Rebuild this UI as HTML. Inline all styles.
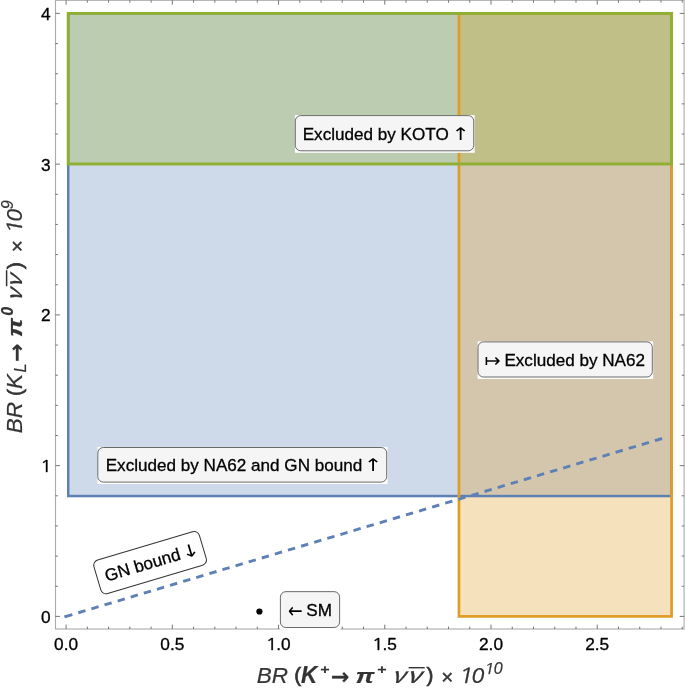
<!DOCTYPE html>
<html lang="en"><head><meta charset="utf-8"><title>BR plot</title>
<style>
html,body{margin:0;padding:0;background:#fff;}
body{width:685px;height:688px;overflow:hidden;}
svg{display:block;}
text{font-family:"Liberation Sans","DejaVu Sans",sans-serif;}
.tk{font-size:17.3px;fill:#000;stroke:#000;stroke-width:0.3px;}
text.n1{font-family:"NanumGothic","Liberation Sans",sans-serif;font-style:normal;}
.lb{font-size:17.1px;fill:#000;stroke:#000;stroke-width:0.3px;}
.ar{font-family:"DejaVu Sans",sans-serif;fill:#000;}
.ax{fill:#343434;font-style:italic;stroke:#343434;stroke-width:0.2px;}
.dj{font-family:"DejaVu Sans",sans-serif;font-weight:bold;font-style:normal;}
.nu{font-family:"Noto Sans CJK SC","Liberation Sans",sans-serif;font-weight:400;}
.up{font-style:normal;}
.pr{font-style:normal;stroke:#343434;stroke-width:0.7px;}
.sb{stroke:#343434;stroke-width:0.4px;}
.b{font-weight:bold;}
.frame{stroke:#666;fill:none;}
</style></head><body>
<svg width="685" height="688" viewBox="0 0 685 688">
<rect x="0" y="0" width="685" height="688" fill="#fff"/>
<rect x="68.22" y="13.40" width="603.36" height="482.65" fill="#5e81b5" fill-opacity="0.3"/>
<rect x="458.95" y="13.40" width="212.63" height="603.00" fill="#e19c24" fill-opacity="0.3"/>
<rect x="68.22" y="13.40" width="603.36" height="150.60" fill="#8fb032" fill-opacity="0.3"/>
<rect x="68.22" y="13.40" width="603.36" height="482.65" fill="none" stroke="#5e81b5" stroke-width="2.5"/>
<rect x="458.95" y="13.40" width="212.63" height="603.00" fill="none" stroke="#e19c24" stroke-width="2.7"/>
<rect x="68.22" y="13.40" width="603.36" height="150.60" fill="none" stroke="#8fb032" stroke-width="2.9"/>
<line x1="65.20" y1="616.67" x2="662.30" y2="438.43" stroke="#5e81b5" stroke-width="2.9" stroke-dasharray="7.47 6.206"/>
<line x1="64.40" y1="616.91" x2="66.00" y2="616.43" stroke="#5e81b5" stroke-width="2.9"/>
<g class="frame">
<rect x="55.50" y="0.30" width="628.60" height="628.70" stroke-width="1.1" stroke-opacity="0.55"/>
<path stroke-width="0.9" d="M66.10 629.00v-4.40M66.10 0.30v4.40M87.34 629.00v-2.40M87.34 0.30v2.40M108.59 629.00v-2.40M108.59 0.30v2.40M129.83 629.00v-2.40M129.83 0.30v2.40M151.08 629.00v-2.40M151.08 0.30v2.40M172.32 629.00v-4.40M172.32 0.30v4.40M193.57 629.00v-2.40M193.57 0.30v2.40M214.81 629.00v-2.40M214.81 0.30v2.40M236.06 629.00v-2.40M236.06 0.30v2.40M257.30 629.00v-2.40M257.30 0.30v2.40M278.55 629.00v-4.40M278.55 0.30v4.40M299.79 629.00v-2.40M299.79 0.30v2.40M321.04 629.00v-2.40M321.04 0.30v2.40M342.28 629.00v-2.40M342.28 0.30v2.40M363.53 629.00v-2.40M363.53 0.30v2.40M384.77 629.00v-4.40M384.77 0.30v4.40M406.02 629.00v-2.40M406.02 0.30v2.40M427.26 629.00v-2.40M427.26 0.30v2.40M448.51 629.00v-2.40M448.51 0.30v2.40M469.75 629.00v-2.40M469.75 0.30v2.40M491.00 629.00v-4.40M491.00 0.30v4.40M512.25 629.00v-2.40M512.25 0.30v2.40M533.49 629.00v-2.40M533.49 0.30v2.40M554.73 629.00v-2.40M554.73 0.30v2.40M575.98 629.00v-2.40M575.98 0.30v2.40M597.23 629.00v-4.40M597.23 0.30v4.40M618.47 629.00v-2.40M618.47 0.30v2.40M639.72 629.00v-2.40M639.72 0.30v2.40M660.96 629.00v-2.40M660.96 0.30v2.40M682.20 629.00v-2.40M682.20 0.30v2.40M55.50 616.40h4.40M684.10 616.40h-4.40M55.50 586.25h2.40M684.10 586.25h-2.40M55.50 556.10h2.40M684.10 556.10h-2.40M55.50 525.95h2.40M684.10 525.95h-2.40M55.50 495.80h2.40M684.10 495.80h-2.40M55.50 465.65h4.40M684.10 465.65h-4.40M55.50 435.50h2.40M684.10 435.50h-2.40M55.50 405.35h2.40M684.10 405.35h-2.40M55.50 375.20h2.40M684.10 375.20h-2.40M55.50 345.05h2.40M684.10 345.05h-2.40M55.50 314.90h4.40M684.10 314.90h-4.40M55.50 284.75h2.40M684.10 284.75h-2.40M55.50 254.60h2.40M684.10 254.60h-2.40M55.50 224.45h2.40M684.10 224.45h-2.40M55.50 194.30h2.40M684.10 194.30h-2.40M55.50 164.15h4.40M684.10 164.15h-4.40M55.50 134.00h2.40M684.10 134.00h-2.40M55.50 103.85h2.40M684.10 103.85h-2.40M55.50 73.70h2.40M684.10 73.70h-2.40M55.50 43.55h2.40M684.10 43.55h-2.40M55.50 13.40h4.40M684.10 13.40h-4.40"/>
</g>
<g class="tk">
<text x="66.10" y="650" text-anchor="middle">0.0</text>
<text x="172.32" y="650" text-anchor="middle">0.5</text>
<text class="n1" font-size="16" transform="translate(265.43 650.00) scale(1.25 1)">1</text>
<text x="276.15" y="650">.0</text>
<text class="n1" font-size="16" transform="translate(371.65 650.00) scale(1.25 1)">1</text>
<text x="382.38" y="650">.5</text>
<text x="491.00" y="650" text-anchor="middle">2.0</text>
<text x="597.23" y="650" text-anchor="middle">2.5</text>
<text x="50.6" y="622.90" text-anchor="end">0</text>
<text class="n1" font-size="16" transform="translate(39.88 471.65) scale(1.25 1)">1</text>
<text x="50.6" y="321.40" text-anchor="end">2</text>
<text x="50.6" y="170.65" text-anchor="end">3</text>
<text x="50.6" y="19.90" text-anchor="end">4</text>
</g>
<circle cx="259.43" cy="611.52" r="3.1" fill="#000"/>
<g><rect x="294.90" y="115.00" width="179.75" height="37.80" fill="#fdfdfd"/><rect x="295.30" y="115.60" width="178.45" height="35.20" rx="5.5" fill="#f5f5f5" stroke="#6a6a6a" stroke-width="1"/><text class="lb" x="302.70" y="139.50">Excluded by KOTO</text><text class="ar" font-size="17.5" transform="translate(451.40 139.80) scale(1.25 1)">↑</text></g>
<g><rect x="97.40" y="446.90" width="290.20" height="37.20" fill="#fdfdfd"/><rect x="97.80" y="447.50" width="288.90" height="34.60" rx="5.5" fill="#f5f5f5" stroke="#6a6a6a" stroke-width="1"/><text class="lb" x="105.70" y="471.20">Excluded by NA62 and GN bound</text><text class="ar" font-size="17.5" transform="translate(363.70 471.20) scale(1.27 1)">↑</text></g>
<g><rect x="477.60" y="341.30" width="175.60" height="37.70" fill="#fdfdfd"/><rect x="478.00" y="341.90" width="174.30" height="35.10" rx="5.5" fill="#f5f5f5" stroke="#6a6a6a" stroke-width="1"/><text class="lb" x="504.40" y="365.80">Excluded by NA62</text><text class="ar" font-size="19.2" transform="translate(484.40 367.20) scale(1 1)">↦</text></g>
<g><rect x="280.00" y="591.05" width="60.50" height="39.45" fill="#fdfdfd"/><rect x="280.40" y="591.65" width="59.20" height="35.85" rx="5.5" fill="#f5f5f5" stroke="#6a6a6a" stroke-width="1"/><text class="lb" x="306.30" y="615.80">SM</text><text class="ar" font-size="17.5" transform="translate(288.00 618.00) scale(1 1.2)">←</text></g>
<g transform="rotate(-16.6 150.1 562.6) translate(150.1 562.6)"><rect x="-55.00" y="-17.50" width="110.00" height="35.00" rx="5.5" fill="#fff" stroke="#333" stroke-width="1"/><text class="lb" x="-46.90" y="5.90">GN bound</text><text class="ar" font-size="17.5" transform="translate(32.60 6.30) scale(1.25 1)">↓</text></g>
<g><text class="ax " font-size="22.5" x="256.70" y="682.70">BR</text><text class="ax pr" font-size="20.8" x="294.30" y="682.30">(</text><text class="ax b" font-size="22.5" transform="translate(301.10 682.70) scale(1 1.05)">K</text><text class="ax b" font-size="16" transform="translate(320.00 673.85) scale(1 0.85)">+</text><text class="ax dj" font-size="22.1" x="331.10" y="684.40">→</text><text class="ax b" font-size="22.5" transform="translate(355.60 682.70) scale(1.18 0.93)">π</text><text class="ax b" font-size="16" transform="translate(376.90 673.85) scale(1 0.85)">+</text><text class="ax nu" font-size="21.4" transform="translate(390.60 682.70) skewX(-8) scale(1.2 1)">ν</text><text class="ax nu" font-size="21.4" transform="translate(405.40 682.70) skewX(-8) scale(1.27 1)">ν</text><text class="ax up" font-size="26" transform="translate(409.00 686.90) scale(1.075 1)">¯</text><text class="ax pr" font-size="20.8" x="426.40" y="682.30">)</text><text class="ax sb" font-size="20.5" x="441.00" y="684.20">×</text><text class="ax n1" font-size="20.75" transform="translate(457.10 682.70) skewX(-11) scale(1.3 1)">1</text><text class="ax " font-size="22.5" x="471.70" y="682.70">0</text><text class="ax n1" font-size="14.76" transform="translate(482.65 673.50) skewX(-11) scale(1.3 1)">1</text><text class="ax " font-size="16" x="493.70" y="673.50">0</text></g>
<g transform="translate(22.1 432.1) rotate(-90)"><text class="ax " font-size="22.5" x="-1.10" y="0.00">BR</text><text class="ax pr" font-size="20.8" x="36.20" y="-0.40">(</text><text class="ax " font-size="22.5" x="43.10" y="0.00">K</text><text class="ax " font-size="16" x="59.50" y="4.10">L</text><text class="ax dj" font-size="22.1" x="70.40" y="1.70">→</text><text class="ax b" font-size="22.5" transform="translate(95.00 0.00) scale(1.18 0.93)">π</text><text class="ax b" font-size="16" x="116.40" y="-9.30">0</text><text class="ax nu" font-size="21.4" transform="translate(129.60 0.00) skewX(-8) scale(1.1 1)">ν</text><text class="ax nu" font-size="21.4" transform="translate(143.10 0.00) skewX(-8) scale(1.15 1)">ν</text><text class="ax up" font-size="26" transform="translate(146.00 4.20) scale(1.075 1)">¯</text><text class="ax pr" font-size="20.8" x="163.00" y="-0.40">)</text><text class="ax sb" font-size="20.5" x="179.50" y="1.50">×</text><text class="ax n1" font-size="20.75" transform="translate(196.00 0.00) skewX(-11) scale(1.3 1)">1</text><text class="ax " font-size="22.5" x="210.60" y="0.00">0</text><text class="ax " font-size="16" x="222.90" y="-9.60">9</text></g>
</svg>
</body></html>
